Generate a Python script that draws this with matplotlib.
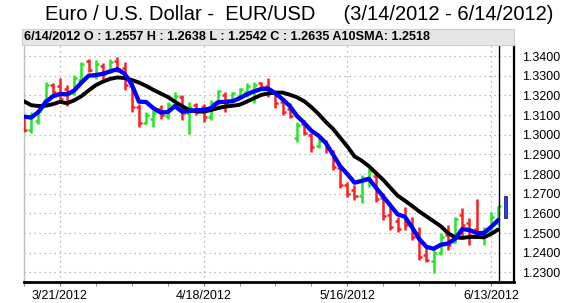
import numpy as np, pandas as pd
import matplotlib; matplotlib.use("Agg"); import matplotlib.pyplot as plt
from matplotlib.patches import Rectangle

plt.rcParams["font.family"] = ["Liberation Sans", "DejaVu Sans"]

# EUR/USD daily bars, 3/14/2012 - 6/14/2012
dates = pd.bdate_range("2012-03-14", "2012-06-14")
opens = [1.3075, 1.3025, 1.3070, 1.3175, 1.3255, 1.3250, 1.3230, 1.3210, 1.3280, 1.3375,
         1.3300, 1.3350, 1.3320, 1.3375, 1.3340, 1.3245, 1.3140, 1.3060, 1.3080, 1.3130,
         1.3095, 1.3150, 1.3190, 1.3110, 1.3150, 1.3140, 1.3090, 1.3165, 1.3200, 1.3170,
         1.3195, 1.3215, 1.3220, 1.3262, 1.3250, 1.3210, 1.3165, 1.3130, 1.2985, 1.3055,
         1.3000, 1.2940, 1.2965, 1.2915, 1.2830, 1.2745, 1.2720, 1.2690, 1.2770, 1.2790,
         1.2680, 1.2590, 1.2560, 1.2590, 1.2545, 1.2500, 1.2390, 1.2360, 1.2400, 1.2490,
         1.2455, 1.2590, 1.2550, 1.2520, 1.2480, 1.2505, 1.2557]
highs = [1.3085, 1.3115, 1.3124, 1.3270, 1.3262, 1.3290, 1.3255, 1.3304, 1.3372, 1.3387,
         1.3380, 1.3365, 1.3385, 1.3395, 1.3368, 1.3253, 1.3158, 1.3116, 1.3124, 1.3151,
         1.3166, 1.3217, 1.3201, 1.3166, 1.3160, 1.3157, 1.3177, 1.3228, 1.3215, 1.3219,
         1.3238, 1.3263, 1.3270, 1.3270, 1.3289, 1.3219, 1.3187, 1.3160, 1.3067, 1.3075,
         1.3009, 1.2983, 1.2973, 1.2922, 1.2838, 1.2761, 1.2744, 1.2795, 1.2831, 1.2805,
         1.2704, 1.2653, 1.2583, 1.2633, 1.2583, 1.2532, 1.2430, 1.2413, 1.2500, 1.2541,
         1.2583, 1.2627, 1.2576, 1.2673, 1.2532, 1.2608, 1.2638]
lows = [1.3013, 1.3008, 1.3056, 1.3165, 1.3200, 1.3175, 1.3145, 1.3203, 1.3260, 1.3319,
        1.3284, 1.3285, 1.3315, 1.3319, 1.3228, 1.3116, 1.3039, 1.3056, 1.3039, 1.3082,
        1.3082, 1.3141, 1.3075, 1.3004, 1.3100, 1.3065, 1.3075, 1.3150, 1.3117, 1.3168,
        1.3187, 1.3192, 1.3160, 1.3228, 1.3192, 1.3136, 1.3100, 1.3085, 1.2965, 1.2998,
        1.2912, 1.2933, 1.2907, 1.2821, 1.2729, 1.2683, 1.2668, 1.2653, 1.2734, 1.2658,
        1.2566, 1.2515, 1.2507, 1.2515, 1.2464, 1.2363, 1.2354, 1.2296, 1.2388, 1.2413,
        1.2449, 1.2481, 1.2439, 1.2481, 1.2439, 1.2498, 1.2542]
closes = [1.3025, 1.3100, 1.3118, 1.3255, 1.3215, 1.3180, 1.3170, 1.3290, 1.3360, 1.3330,
          1.3360, 1.3310, 1.3370, 1.3335, 1.3255, 1.3140, 1.3060, 1.3100, 1.3110, 1.3100,
          1.3150, 1.3195, 1.3110, 1.3140, 1.3115, 1.3090, 1.3160, 1.3220, 1.3160, 1.3210,
          1.3230, 1.3250, 1.3255, 1.3240, 1.3210, 1.3160, 1.3115, 1.3095, 1.3050, 1.3010,
          1.2935, 1.2970, 1.2925, 1.2835, 1.2745, 1.2700, 1.2690, 1.2780, 1.2815, 1.2675,
          1.2585, 1.2530, 1.2520, 1.2540, 1.2480, 1.2380, 1.2365, 1.2400, 1.2480, 1.2440,
          1.2570, 1.2540, 1.2490, 1.2490, 1.2510, 1.2580, 1.2635]
fast_ma = [1.3092, 1.3087, 1.3115, 1.3165, 1.3195, 1.3207, 1.3205, 1.3225, 1.3265, 1.3300,
           1.3303, 1.3310, 1.3322, 1.3333, 1.3310, 1.3255, 1.3168, 1.3166, 1.3135, 1.3113,
           1.3115, 1.3145, 1.3117, 1.3120, 1.3125, 1.3125, 1.3135, 1.3165, 1.3167, 1.3170,
           1.3185, 1.3205, 1.3220, 1.3232, 1.3234, 1.3210, 1.3180, 1.3145, 1.3095, 1.3060,
           1.3020, 1.2995, 1.2958, 1.2900, 1.2840, 1.2800, 1.2756, 1.2765, 1.2776, 1.2730,
           1.2685, 1.2640, 1.2595, 1.2583, 1.2530, 1.2470, 1.2430, 1.2420, 1.2440, 1.2447,
           1.2470, 1.2520, 1.2515, 1.2500, 1.2500, 1.2530, 1.2566]
sma10 = [1.3170, 1.3150, 1.3146, 1.3147, 1.3155, 1.3167, 1.3160, 1.3175, 1.3196, 1.3225,
         1.3252, 1.3270, 1.3284, 1.3291, 1.3288, 1.3278, 1.3265, 1.3248, 1.3228, 1.3210,
         1.3192, 1.3168, 1.3145, 1.3125, 1.3119, 1.3117, 1.3125, 1.3135, 1.3143, 1.3147,
         1.3152, 1.3168, 1.3185, 1.3202, 1.3210, 1.3214, 1.3214, 1.3203, 1.3190, 1.3170,
         1.3140, 1.3105, 1.3065, 1.3030, 1.2985, 1.2940, 1.2890, 1.2868, 1.2840, 1.2805,
         1.2770, 1.2730, 1.2690, 1.2665, 1.2638, 1.2610, 1.2585, 1.2560, 1.2535, 1.2500,
         1.2478, 1.2475, 1.2480, 1.2480, 1.2478, 1.2495, 1.2518]
marker_lo, marker_hi = 1.2575, 1.2690
major_idx = [5, 25, 45, 65]

W, H = 564, 303
fig = plt.figure(figsize=(W / 100, H / 100), dpi=100)
ax = fig.add_axes([24 / W, 21 / H, 490 / W, 237 / H])

x = np.arange(len(dates))
up = np.array(closes) >= np.array(opens)
cols = np.where(up, "#22e622", "#ff1e1e")
tk = 0.42
ax.vlines(x, lows, highs, colors=cols, lw=1.8, zorder=3)
ax.hlines(opens, x - tk, x, colors=cols, lw=1.8, zorder=3)
ax.hlines(closes, x, x + tk, colors=cols, lw=1.8, zorder=3)
ax.plot(x, sma10, color="black", lw=2.8, zorder=4, solid_capstyle="round")
ax.plot(x, fast_ma, color="#0000ff", lw=3.1, zorder=5, solid_capstyle="round")

# cursor line and last-price marker
ax.axvline(x[-1] + 0.1, color="black", lw=1.0, zorder=6)
ax.add_patch(Rectangle((len(x) + 0.05 - 0.2, marker_lo), 0.4, marker_hi - marker_lo,
                       facecolor="#1f3fff", edgecolor="#202060", lw=0.6, zorder=6))

ax.set_xlim(0.1, 68.2)
ax.set_ylim(1.2251, 1.3456)
ax.set_yticks(np.arange(1.23, 1.3401, 0.01))
ax.yaxis.set_major_formatter(matplotlib.ticker.FormatStrFormatter("%.4f"))
ax.yaxis.tick_right()
ax.tick_params(axis="y", length=0, pad=6, labelsize=9)
ax.set_xticks(major_idx)
ax.set_xticklabels([f"{d.month}/{d.day}/{d.year}" for d in dates[major_idx]])
ax.set_xticks(np.arange(0, len(x), 5), minor=True)
ax.tick_params(axis="x", which="both", length=3, color="#777777", pad=3, labelsize=9)

ax.grid(True, which="major", color="#a8a8a8", lw=0.9, ls=(0, (1, 3)))
ax.set_axisbelow(True)
ax.spines["top"].set_visible(False)
ax.spines["left"].set_color("#c0c0c0")
ax.spines["left"].set_linewidth(1.0)
ax.spines["bottom"].set_linewidth(2.0)
ax.spines["right"].set_linewidth(1.6)

fig.text(299.5 / W, 1 - 14 / H, "Euro / U.S. Dollar -  EUR/USD     (3/14/2012 - 6/14/2012)",
         ha="center", va="center", fontsize=14.5)
fig.patches.append(Rectangle((22 / W, 1 - 45 / H), 492 / W, 16 / H, transform=fig.transFigure,
                             facecolor="#e6e6e6", edgecolor="#cfcfcf", lw=0.8))
hdr = (f"{dates[-1].month}/{dates[-1].day}/{dates[-1].year} O : {opens[-1]:.4f} "
       f"H : {highs[-1]:.4f} L : {lows[-1]:.4f} C : {closes[-1]:.4f} A10SMA: {sma10[-1]:.4f}")
fig.text(24 / W, 1 - 37 / H, hdr, ha="left", va="center", fontsize=9.1, fontweight="bold")

fig.savefig("out.png", dpi=100)
